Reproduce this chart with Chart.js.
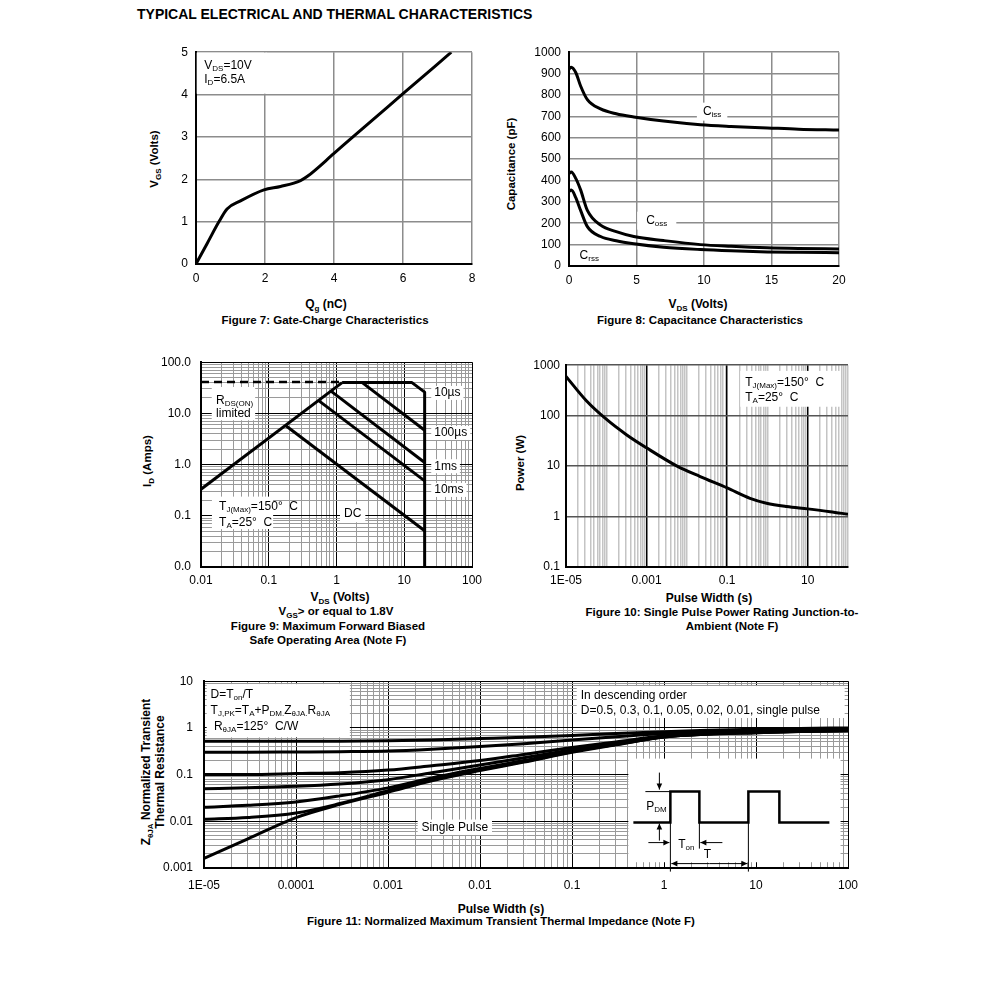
<!DOCTYPE html>
<html><head><meta charset="utf-8">
<script src="https://cdn.jsdelivr.net/npm/chart.js@4/dist/chart.umd.min.js"></script>
<style>
body{margin:0;background:#fff;width:991px;height:984px;position:relative;overflow:hidden;font-family:'Liberation Sans',Arial,sans-serif;color:#000}
.t{position:absolute;transform:translate(-50%,-50%);white-space:nowrap;font-weight:bold;font-size:11.5px;line-height:13px;text-align:center}
.t.a{font-size:12px}
.t.r{transform:translate(-50%,-50%) rotate(-90deg)}
.s{font-size:8px;position:relative;top:3px}
</style></head><body>
<div style="position:absolute;left:137px;top:6px;font-weight:bold;font-size:14px">TYPICAL ELECTRICAL AND THERMAL CHARACTERISTICS</div>

<div class="t r" style="left:155px;top:159px">V<span class="s">GS</span> (Volts)</div>
<div class="t a" style="left:326px;top:305px">Q<span class="s">g</span> (nC)</div>
<div class="t" style="left:325px;top:320px">Figure 7: Gate-Charge Characteristics</div>

<div class="t r" style="left:511px;top:164px">Capacitance (pF)</div>
<div class="t a" style="left:698px;top:305px">V<span class="s">DS</span> (Volts)</div>
<div class="t" style="left:700px;top:320px">Figure 8: Capacitance Characteristics</div>

<div class="t r" style="left:148px;top:461px">I<span class="s">D</span> (Amps)</div>
<div class="t a" style="left:340px;top:598px">V<span class="s">DS</span> (Volts)</div>
<div class="t" style="left:336px;top:612px">V<span class="s">GS</span>&gt; or equal to 1.8V</div>
<div class="t" style="left:328px;top:626px">Figure 9: Maximum Forward Biased</div>
<div class="t" style="left:328px;top:640px">Safe Operating Area (Note F)</div>

<div class="t r" style="left:520px;top:463px">Power (W)</div>
<div class="t a" style="left:709px;top:598px">Pulse Width (s)</div>
<div class="t" style="left:722px;top:612px">Figure 10: Single Pulse Power Rating Junction-to-</div>
<div class="t" style="left:732px;top:626px">Ambient (Note F)</div>

<div class="t r a" style="left:153px;top:772px">Z<span class="s">θJA</span> Normalized Transient<br>Thermal Resistance</div>
<div class="t a" style="left:501px;top:909px">Pulse Width (s)</div>
<div class="t" style="left:501px;top:921px">Figure 11: Normalized Maximum Transient Thermal Impedance (Note F)</div>

<script>
// ================= DATA =================
// Figure 7: Gate charge
const qgNc     = [0, 0.32, 0.66, 0.9, 1.29, 1.97, 2.45, 3.03, 3.23, 4.0, 4.49, 6.0, 7.4];
const vgsVolts = [0, 0.48, 0.99, 1.3, 1.49, 1.75, 1.83, 1.97, 2.07, 2.61, 2.96, 4.02, 5.0];

// Figure 8: Capacitance
const vdsVolts = [0, 0.17, 0.5, 0.86, 1.36, 2.34, 3.5, 4.8, 7, 9.73, 12, 14.7, 17, 20];
const cissPf   = [920, 930, 905, 842, 778, 735, 712, 697, 678, 661, 653, 646, 640, 636];
const cossPf   = [432, 440, 410, 356, 260, 191, 161, 138, 119, 100, 92, 85, 82, 80];
const crssPf   = [348, 355, 320, 260, 184, 138, 118, 104, 88, 77, 71, 66, 64, 62];

// Figure 9: Safe operating area
const soaRdsV   = [0.01, 1.21];      const soaRdsA   = [0.33, 40];
const soaDashV  = [0.01, 1.21];      const soaDashA  = [41, 41];
const soa10usV  = [1.21, 13, 20, 20]; const soa10usA = [40, 40, 26, 0.01];
const soa100usV = [2.4, 20];         const soa100usA = [40, 4.7];
const soa1msV   = [0.82, 20];        const soa1msA   = [27.5, 1.1];
const soa10msV  = [0.54, 20];        const soa10msA  = [18, 0.48];
const soaDcV    = [0.177, 20];       const soaDcA    = [5.8, 0.051];

// Figure 10: Single pulse power
const pulseS = [1e-5, 3.16e-5, 1e-4, 3.16e-4, 1e-3, 5.7e-3, 0.0214, 0.1, 0.37, 0.95, 3, 10, 36, 100];
const powerW = [600, 200, 85, 42, 23, 10, 6.2, 3.7, 2.3, 1.84, 1.58, 1.42, 1.25, 1.11];

// Figure 11: Normalized transient thermal impedance
const zPulseS = [1e-5, 3e-5, 1e-4, 3e-4, 1e-3, 3e-3, 0.01, 0.03, 0.1, 0.3, 1, 3, 10, 30, 100];
const zD050 = [0.52, 0.52, 0.52, 0.52, 0.53, 0.55, 0.59, 0.63, 0.69, 0.76, 0.83, 0.89, 0.94, 0.97, 1.0];
const zD030 = [0.30, 0.30, 0.305, 0.31, 0.32, 0.35, 0.40, 0.46, 0.55, 0.65, 0.76, 0.84, 0.90, 0.94, 0.97];
const zD010 = [0.10, 0.10, 0.105, 0.11, 0.125, 0.155, 0.20, 0.27, 0.38, 0.50, 0.68, 0.78, 0.85, 0.90, 0.93];
const zD005 = [0.05, 0.052, 0.056, 0.063, 0.078, 0.11, 0.16, 0.23, 0.34, 0.47, 0.66, 0.76, 0.82, 0.87, 0.90];
const zD002 = [0.02, 0.022, 0.026, 0.035, 0.052, 0.085, 0.135, 0.20, 0.32, 0.45, 0.65, 0.75, 0.80, 0.85, 0.88];
const zD001 = [0.011, 0.012, 0.015, 0.024, 0.045, 0.078, 0.127, 0.19, 0.31, 0.44, 0.64, 0.74, 0.79, 0.84, 0.87];
const zSingle = [0.0016, 0.0042, 0.012, 0.023, 0.042, 0.074, 0.122, 0.185, 0.30, 0.435, 0.635, 0.735, 0.785, 0.835, 0.865];

// Tick labels
const fig9XVals  = [0.01, 0.1, 1, 10, 100];      const fig9XLabels  = ['0.01', '0.1', '1', '10', '100'];
const fig9YVals  = [0.01, 0.1, 1, 10, 100];      const fig9YLabels  = ['0.0', '0.1', '1.0', '10.0', '100.0'];
const fig10XVals = [1e-5, 1e-3, 0.1, 10];        const fig10XLabels = ['1E-05', '0.001', '0.1', '10'];
const fig10YVals = [0.1, 1, 10, 100, 1000];      const fig10YLabels = ['0.1', '1', '10', '100', '1000'];
const fig11XVals = [1e-5, 1e-4, 1e-3, 0.01, 0.1, 1, 10, 100];
const fig11XLabels = ['1E-05', '0.0001', '0.001', '0.01', '0.1', '1', '10', '100'];
const fig11YVals = [0.001, 0.01, 0.1, 1, 10];    const fig11YLabels = ['0.001', '0.01', '0.1', '1', '10'];

// ================= HELPERS =================
const FONT = "'Liberation Sans', Arial, sans-serif";
Chart.defaults.font.family = FONT;
Chart.defaults.color = '#000';

function parseRich(s) {
  return s.split(/(_\{[^}]*\})/).filter(p => p.length).map(p =>
    p.startsWith('_{') ? [p.slice(2, -1), 's'] : [p, 'n']);
}
function richWidth(ctx, s, size) {
  let w = 0;
  for (const [t, k] of parseRich(s)) {
    ctx.font = (k === 's' ? Math.round(size * 0.68) : size) + 'px ' + FONT;
    w += ctx.measureText(t).width;
  }
  return w;
}
function drawRich(ctx, x, y, s, size, align) {
  const w = richWidth(ctx, s, size);
  let cx = align === 'center' ? x - w / 2 : x;
  ctx.textAlign = 'left'; ctx.textBaseline = 'middle'; ctx.fillStyle = '#000';
  for (const [t, k] of parseRich(s)) {
    ctx.font = (k === 's' ? Math.round(size * 0.68) : size) + 'px ' + FONT;
    ctx.fillText(t, cx, k === 's' ? y + 3 : y);
    cx += ctx.measureText(t).width;
  }
}
function annotPlugin(items) {
  return {
    id: 'annot',
    beforeDatasetsDraw(chart) {
      const ctx = chart.ctx, xs = chart.scales.x, ys = chart.scales.y;
      ctx.save();
      for (const it of items) {
        const size = it.size || 12, lh = it.lh || 14;
        const lines = it.lines || [];
        const px = it.x !== undefined ? xs.getPixelForValue(it.x) : 0;
        const py = it.y !== undefined ? ys.getPixelForValue(it.y) : 0;
        let bx0, by0, bx1, by1;
        if (it.box) {
          bx0 = xs.getPixelForValue(it.box[0]); bx1 = xs.getPixelForValue(it.box[1]);
          by0 = ys.getPixelForValue(it.box[2]); by1 = ys.getPixelForValue(it.box[3]);
        } else {
          const maxW = Math.max(...lines.map(l => richWidth(ctx, l, size)));
          const [padX, padY] = it.pad || [3, 2];
          const left = it.align === 'center' ? px - maxW / 2 : px;
          bx0 = left - padX; bx1 = left + maxW + padX;
          by0 = py - lh / 2 - padY; by1 = py + (lines.length - 1) * lh + lh / 2 + padY;
        }
        const L = Math.min(bx0, bx1), T = Math.min(by0, by1);
        ctx.fillStyle = '#fff';
        ctx.fillRect(L, T, Math.abs(bx1 - bx0), Math.abs(by1 - by0));
        lines.forEach((l, i) => drawRich(ctx, px, py + i * lh, l, size, it.align || 'left'));
        if (it.draw) it.draw(ctx, L, T);
      }
      ctx.restore();
    }
  };
}
function arrow(ctx, x1, y1, x2, y2) {
  ctx.beginPath(); ctx.moveTo(x1, y1); ctx.lineTo(x2, y2); ctx.stroke();
  const a = Math.atan2(y2 - y1, x2 - x1), L = 6, W = 2.8;
  ctx.beginPath();
  ctx.moveTo(x2, y2);
  ctx.lineTo(x2 - L * Math.cos(a) + W * Math.sin(a), y2 - L * Math.sin(a) - W * Math.cos(a));
  ctx.lineTo(x2 - L * Math.cos(a) - W * Math.sin(a), y2 - L * Math.sin(a) + W * Math.cos(a));
  ctx.closePath(); ctx.fill();
}
function drawPulseInset(ctx, x0, y0) {
  ctx.save();
  ctx.translate(x0, y0);
  ctx.strokeStyle = '#000'; ctx.fillStyle = '#000';
  ctx.lineWidth = 2.5; ctx.lineJoin = 'miter';
  const wf = [[5,64],[42,64],[42,33],[71,33],[71,64],[120,64],[120,33],[151,33],[151,64],[201,64]];
  ctx.beginPath(); wf.forEach(([x, y], i) => i ? ctx.lineTo(x, y) : ctx.moveTo(x, y)); ctx.stroke();
  ctx.lineWidth = 1;
  ctx.beginPath();
  ctx.moveTo(17, 33); ctx.lineTo(42, 33);
  ctx.moveTo(42, 64); ctx.lineTo(42, 113);
  ctx.moveTo(71, 64); ctx.lineTo(71, 90);
  ctx.moveTo(120, 64); ctx.lineTo(120, 113);
  ctx.stroke();
  arrow(ctx, 31, 14, 31, 31);
  arrow(ctx, 31, 82, 31, 65);
  arrow(ctx, 20, 84, 41, 84);
  arrow(ctx, 94, 84, 72, 84);
  arrow(ctx, 81, 105, 43, 105);
  arrow(ctx, 81, 105, 119, 105);
  drawRich(ctx, 28, 48, 'P_{DM}', 12, 'center');
  drawRich(ctx, 58, 86, 'T_{on}', 12, 'center');
  drawRich(ctx, 79, 96, 'T', 12, 'center');
  ctx.restore();
}

function series(xs, ys, opts = {}) {
  return Object.assign({
    data: xs.map((x, i) => ({x, y: ys[i]})),
    showLine: true, borderColor: '#000', backgroundColor: '#000',
    borderWidth: 3, pointRadius: 0, fill: false, tension: 0,
    borderJoinStyle: 'round', borderCapStyle: 'butt'
  }, opts);
}
const smooth = {cubicInterpolationMode: 'monotone'};

function labelFor(v, vals, labels) {
  for (let i = 0; i < vals.length; i++)
    if (Math.abs(Math.log10(v) - Math.log10(vals[i])) < 1e-6) return labels[i];
  return '';
}
function logAxis(min, max, minor, vals, labels, pad, majorCol, minorCol, majorW, minorW) {
  return {
    type: 'logarithmic', min, max,
    afterBuildTicks: s => {
      const t = [];
      const e0 = Math.round(Math.log10(min)), e1 = Math.round(Math.log10(max));
      for (let e = e0; e <= e1; e++) {
        const b = Math.pow(10, e);
        t.push({value: b, major: labelFor(b, vals, labels) !== ''});
        if (minor && e < e1) for (let k = 2; k <= 9; k++) t.push({value: k * b, major: false});
      }
      s.ticks = t;
    },
    ticks: {autoSkip: false, maxRotation: 0, minRotation: 0, padding: pad,
      font: {size: 12}, color: '#000',
      callback: v => labelFor(v, vals, labels)},
    grid: {drawTicks: false,
      color: c => (c.tick && c.tick.major) ? majorCol : minorCol,
      lineWidth: c => (c.tick && c.tick.major) ? majorW : minorW},
    border: {color: '#000', width: 2}
  };
}
function linAxis(min, max, step, pad) {
  return {
    type: 'linear', min, max,
    ticks: {stepSize: step, padding: pad, font: {size: 12}, color: '#000', maxRotation: 0,
      callback: v => String(v)},
    grid: {drawTicks: false, color: '#8c8c8c', lineWidth: 1.5},
    border: {color: '#000', width: 2}
  };
}
function makeChart(area, datasets, scales, annots) {
  const YW = 64, XH = 34, PT = 12, PR = 24;
  const w = area.r - area.l + YW + PR, h = area.b - area.t + PT + XH;
  const cv = document.createElement('canvas');
  cv.width = w; cv.height = h;
  cv.style.cssText = `position:absolute;left:${area.l - YW}px;top:${area.t - PT}px;width:${w}px;height:${h}px`;
  document.body.appendChild(cv);
  scales.x.afterFit = s => { s.height = XH; };
  scales.y.afterFit = s => { s.width = YW; };
  return new Chart(cv, {
    type: 'scatter',
    data: {datasets},
    options: {
      responsive: false, animation: false, events: [],
      layout: {padding: {left: 0, top: PT, right: PR, bottom: 0}},
      plugins: {legend: {display: false}, tooltip: {enabled: false}},
      scales
    },
    plugins: [annotPlugin(annots || [])]
  });
}

// ================= FIGURE 7 =================
makeChart({l: 196, r: 472, t: 49, b: 264},
  [series(qgNc, vgsVolts, smooth)],
  {x: linAxis(0, 8, 2, 7), y: linAxis(0, 5, 1, 8)},
  [{box: [0.02, 2.05, 4.99, 4.02], x: 0.24, y: 4.67, lh: 14, lines: ['V_{DS}=10V', 'I_{D}=6.5A']}]);

// ================= FIGURE 8 =================
makeChart({l: 569, r: 839, t: 49, b: 266},
  [series(vdsVolts, cissPf, smooth), series(vdsVolts, cossPf, smooth), series(vdsVolts, crssPf, smooth)],
  {x: linAxis(0, 20, 5, 7), y: linAxis(0, 1000, 100, 8)},
  [{x: 10.6, y: 722, align: 'center', pad: [6, 2], lines: ['C_{iss}']},
   {x: 6.5, y: 212, align: 'center', pad: [9, 2], lines: ['C_{oss}']},
   {x: 1.5, y: 50, align: 'center', pad: [2, 1], lines: ['C_{rss}']}]);

// ================= FIGURE 9 =================
makeChart({l: 201, r: 472, t: 357, b: 567},
  [series(soaDashV, soaDashA, {borderDash: [8, 5], borderWidth: 2.5}),
   series(soaRdsV, soaRdsA), series(soa10usV, soa10usA), series(soa100usV, soa100usA),
   series(soa1msV, soa1msA), series(soa10msV, soa10msA), series(soaDcV, soaDcA)],
  {x: logAxis(0.01, 100, true, fig9XVals, fig9XLabels, 6, '#000', '#9a9a9a', 1, 1),
   y: logAxis(0.01, 100, true, fig9YVals, fig9YLabels, 10, '#000', '#9a9a9a', 1, 1)},
  [{box: [0.0144, 0.063, 32.8, 7.35], x: 0.0167, y: 17.7, lh: 13, lines: ['R_{DS(ON)}', 'limited']},
   {x: 27.7, y: 25.1, pad: [3, 0], lines: ['10µs']},
   {x: 27.7, y: 4.15, pad: [3, 0], lines: ['100µs']},
   {x: 27.7, y: 0.93, pad: [3, 0], lines: ['1ms']},
   {x: 27.7, y: 0.32, pad: [3, 0], lines: ['10ms']},
   {x: 1.29, y: 0.112, pad: [4, 2], lines: ['DC']},
   {box: [0.0145, 0.116, 0.237, 0.055], x: 0.0185, y: 0.153, lh: 16, lines: ['T_{J(Max)}=150°  C', 'T_{A}=25°  C']}]);

// ================= FIGURE 10 =================
makeChart({l: 566, r: 848, t: 364, b: 567},
  [series(pulseS, powerW, smooth)],
  {x: logAxis(1e-5, 100, true, fig10XVals, fig10XLabels, 6, '#000', '#c4c4c4', 1.5, 1.5),
   y: logAxis(0.1, 1000, false, fig10YVals, fig10YLabels, 6, '#555', '#555', 1.5, 1.5)},
  [{box: [0.211, 64, 771, 150], x: 0.281, y: 447, lh: 15, lines: ['T_{J(Max)}=150°  C', 'T_{A}=25°  C']}]);

// ================= FIGURE 11 =================
makeChart({l: 204, r: 848, t: 675, b: 868},
  [series(zPulseS, zD050, smooth), series(zPulseS, zD030, smooth), series(zPulseS, zD010, smooth),
   series(zPulseS, zD005, smooth), series(zPulseS, zD002, smooth), series(zPulseS, zD001, smooth),
   series(zPulseS, zSingle, smooth)],
  {x: logAxis(1e-5, 100, true, fig11XVals, fig11XLabels, 10, '#000', '#9a9a9a', 1, 1),
   y: logAxis(0.001, 10, true, fig11YVals, fig11YLabels, 11, '#000', '#9a9a9a', 1, 1)},
  [{box: [1.07e-5, 3.85e-4, 8.67, 0.628], x: 1.18e-5, y: 5.13, lh: 16,
    lines: ['D=T_{on}/T', 'T_{J,PK}=T_{A}+P_{DM}_{.}Z_{θJA}_{.}R_{θJA}', ' R_{θJA}=125°  C/W']},
   {box: [0.1125, 92, 7.87, 1.63], x: 0.1245, y: 4.89, lh: 15,
    lines: ['In descending order', 'D=0.5, 0.3, 0.1, 0.05, 0.02, 0.01, single pulse']},
   {box: [0.0021, 0.0135, 0.0109, 0.0051], x: 0.00532, y: 0.0074, align: 'center', lines: ['Single Pulse']},
   {box: [0.41, 83, 0.22, 0.00133], draw: drawPulseInset}]);
</script>
</body></html>
